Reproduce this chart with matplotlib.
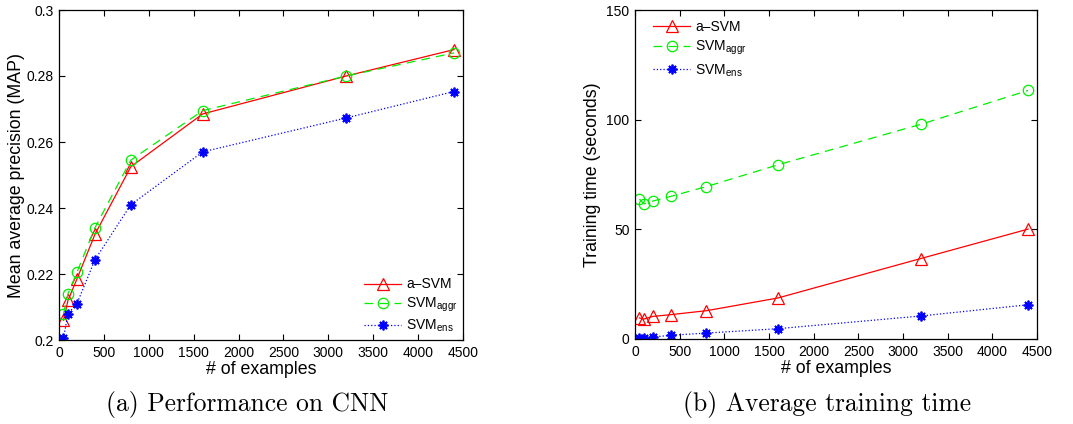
import matplotlib
matplotlib.use('Agg')
import matplotlib.pyplot as plt

# %%
## Data ##

n_examples = [50, 100, 200, 400, 800, 1600, 3200, 4400]

map_asvm = [0.206, 0.212, 0.2185, 0.232, 0.2525, 0.2685, 0.280, 0.288]
map_aggr = [0.208, 0.214, 0.2205, 0.234, 0.2545, 0.2695, 0.280, 0.287]
map_ens = [0.2005, 0.208, 0.211, 0.2243, 0.241, 0.257, 0.2673, 0.2753]

time_asvm = [9.6, 9.1, 10.3, 11.1, 12.9, 18.7, 36.7, 50.1]
time_aggr = [63.8, 61.6, 62.9, 65.0, 69.5, 79.4, 97.9, 113.3]
time_ens = [0.6, 0.6, 0.9, 1.7, 2.7, 4.7, 10.5, 15.6]

labels = ['a\u2013SVM', r'SVM$_{\mathrm{aggr}}$', r'SVM$_{\mathrm{ens}}$']
captions = ['(a) Performance on CNN', '(b) Average training time']

# %%
## Style ##

plt.rcParams['font.family'] = ['Liberation Sans', 'DejaVu Sans']
plt.rcParams['mathtext.fontset'] = 'custom'
plt.rcParams['mathtext.rm'] = 'Liberation Sans'
plt.rcParams['mathtext.it'] = 'Liberation Sans:italic'
plt.rcParams['mathtext.bf'] = 'Liberation Sans:bold'


def style_axes(ax):
    ax.tick_params(direction='in', top=True, right=True, labelsize=10, length=4, pad=4)
    for s in ax.spines.values():
        s.set_linewidth(0.9)


def draw(ax, y1, y2, y3):
    ax.plot(n_examples, y1, '-', color='red', lw=0.9, marker='^', ms=8,
            mfc='none', mec='red', mew=0.9, label=labels[0])
    ax.plot(n_examples, y2, '--', color='#00ee00', lw=0.9, marker='o', ms=7.5,
            mfc='none', mec='#00ee00', mew=0.9, dashes=(7, 5), label=labels[1])
    ax.plot(n_examples, y3, ':', color='blue', lw=0.9, marker=(8, 2, 0), ms=7,
            mec='blue', mew=1.3, label=labels[2])


fig = plt.figure(figsize=(10.73, 4.24), dpi=100)

# %%
## Left: MAP ##

ax1 = fig.add_axes([59 / 1073, 84 / 424, 404 / 1073, 330 / 424])
draw(ax1, map_asvm, map_aggr, map_ens)
ax1.set_xlim(0, 4500)
ax1.set_ylim(0.2, 0.3)
ax1.set_xticks(range(0, 4501, 500))
ax1.set_yticks([0.2, 0.22, 0.24, 0.26, 0.28, 0.3])
ax1.set_yticklabels(['0.2', '0.22', '0.24', '0.26', '0.28', '0.3'])
ax1.set_xlabel('# of examples', fontsize=12.8, labelpad=1)
ax1.set_ylabel('Mean average precision (MAP)', fontsize=12.8, labelpad=1)
style_axes(ax1)
ax1.legend(loc='lower right', bbox_to_anchor=(1.0, 0.0), frameon=False, fontsize=10,
           handlelength=2.65, handletextpad=0.35, borderaxespad=0.1, borderpad=0.3,
           labelspacing=0.3)

# %%
## Right: training time ##

ax2 = fig.add_axes([635 / 1073, 85 / 424, 402 / 1073, 329 / 424])
draw(ax2, time_asvm, time_aggr, time_ens)
ax2.set_xlim(0, 4500)
ax2.set_ylim(0, 150)
ax2.set_xticks(range(0, 4501, 500))
ax2.set_yticks([0, 50, 100, 150])
ax2.set_xlabel('# of examples', fontsize=12.8, labelpad=1)
ax2.set_ylabel('Training time (seconds)', fontsize=12.8, labelpad=4)
style_axes(ax2)
ax2.legend(loc='upper left', bbox_to_anchor=(0.035, 0.982), frameon=False, fontsize=10,
           handlelength=2.65, handletextpad=0.35, borderaxespad=0.0, borderpad=0.3,
           labelspacing=0.35)

# %%
## Captions ##

fig.text(247 / 1073, 1 - 404 / 424, captions[0], family='cmr10', fontsize=18.4,
         ha='center', va='center')
fig.text(827 / 1073, 1 - 404 / 424, captions[1], family='cmr10', fontsize=18.4,
         ha='center', va='center')

fig.savefig('out.png', dpi=100)
